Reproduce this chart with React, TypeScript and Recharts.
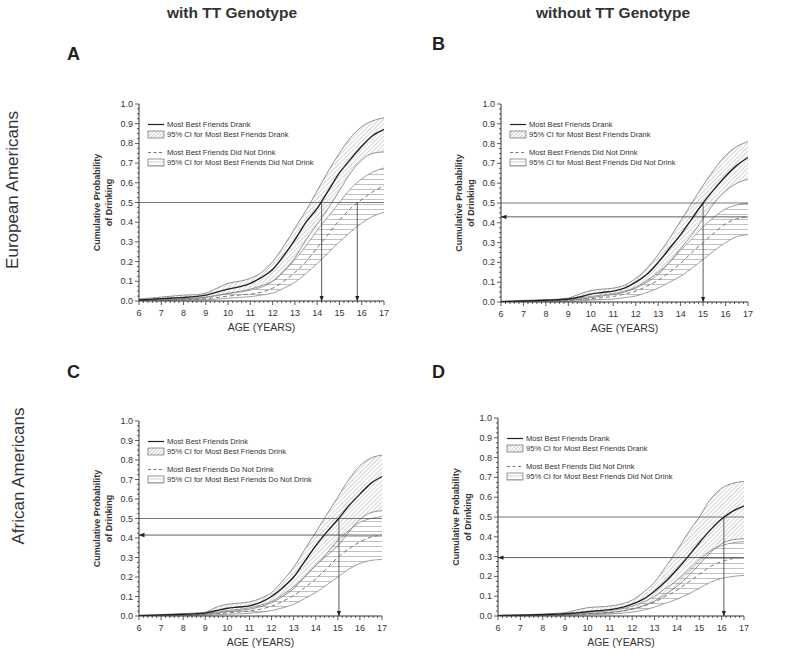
import React from 'react';
import { ComposedChart, Area, Line, XAxis, YAxis, ReferenceLine, Legend } from 'recharts';

const FONT = '"Liberation Sans", Arial, Helvetica, sans-serif';

// ---------- data ----------
const ages = [6, 6.5, 7, 7.5, 8, 8.5, 9, 9.5, 10, 10.5, 11, 11.5, 12, 12.5, 13, 13.5, 14, 14.5, 15, 15.5, 16, 16.5, 17];

// Panel A – European Americans, with TT genotype
const aDrankMean = [0.005, 0.008, 0.012, 0.015, 0.018, 0.022, 0.03, 0.045, 0.06, 0.072, 0.09, 0.12, 0.16, 0.23, 0.31, 0.4, 0.47, 0.56, 0.65, 0.72, 0.785, 0.84, 0.87];
const aDrankHi = [0.01, 0.015, 0.02, 0.025, 0.03, 0.032, 0.04, 0.065, 0.09, 0.1, 0.115, 0.145, 0.2, 0.28, 0.37, 0.46, 0.56, 0.66, 0.75, 0.83, 0.885, 0.915, 0.93];
const aDrankLo = [0.002, 0.004, 0.006, 0.008, 0.01, 0.012, 0.018, 0.028, 0.038, 0.048, 0.06, 0.078, 0.1, 0.15, 0.22, 0.31, 0.39, 0.47, 0.56, 0.65, 0.715, 0.75, 0.757];
const aNotMean = [0.002, 0.003, 0.005, 0.006, 0.008, 0.01, 0.012, 0.018, 0.025, 0.03, 0.035, 0.045, 0.065, 0.1, 0.145, 0.2, 0.27, 0.34, 0.41, 0.47, 0.515, 0.555, 0.585];
const aNotHi = [0.004, 0.006, 0.008, 0.01, 0.012, 0.015, 0.02, 0.028, 0.038, 0.045, 0.055, 0.07, 0.1, 0.15, 0.21, 0.28, 0.36, 0.43, 0.5, 0.57, 0.62, 0.655, 0.675];
const aNotLo = [0, 0.001, 0.002, 0.003, 0.004, 0.005, 0.006, 0.01, 0.014, 0.018, 0.022, 0.03, 0.04, 0.065, 0.095, 0.14, 0.19, 0.245, 0.3, 0.35, 0.395, 0.43, 0.45];

// Panel B – European Americans, without TT genotype
const bDrankMean = [0.002, 0.003, 0.005, 0.007, 0.009, 0.011, 0.015, 0.025, 0.04, 0.048, 0.055, 0.07, 0.1, 0.14, 0.2, 0.27, 0.34, 0.42, 0.5, 0.57, 0.635, 0.69, 0.73];
const bDrankHi = [0.004, 0.006, 0.008, 0.01, 0.012, 0.014, 0.02, 0.04, 0.058, 0.065, 0.07, 0.085, 0.12, 0.17, 0.24, 0.32, 0.41, 0.5, 0.59, 0.67, 0.74, 0.785, 0.81];
const bDrankLo = [0.001, 0.001, 0.002, 0.003, 0.004, 0.005, 0.008, 0.014, 0.022, 0.03, 0.038, 0.05, 0.07, 0.1, 0.14, 0.2, 0.27, 0.34, 0.42, 0.5, 0.56, 0.6, 0.62];
const bNotMean = [0.001, 0.002, 0.003, 0.004, 0.005, 0.006, 0.008, 0.012, 0.017, 0.022, 0.028, 0.04, 0.055, 0.08, 0.11, 0.15, 0.195, 0.25, 0.3, 0.35, 0.395, 0.42, 0.43];
const bNotHi = [0.002, 0.003, 0.005, 0.006, 0.008, 0.01, 0.013, 0.02, 0.028, 0.035, 0.042, 0.055, 0.075, 0.11, 0.15, 0.2, 0.26, 0.32, 0.38, 0.43, 0.47, 0.49, 0.5];
const bNotLo = [0, 0.001, 0.001, 0.002, 0.002, 0.003, 0.004, 0.006, 0.009, 0.012, 0.015, 0.022, 0.03, 0.048, 0.07, 0.1, 0.13, 0.17, 0.215, 0.26, 0.3, 0.33, 0.34];

// Panel C – African Americans, with TT genotype
const cDrankMean = [0.002, 0.003, 0.005, 0.007, 0.009, 0.011, 0.015, 0.028, 0.04, 0.046, 0.052, 0.07, 0.1, 0.145, 0.2, 0.28, 0.36, 0.43, 0.495, 0.565, 0.625, 0.68, 0.715];
const cDrankHi = [0.004, 0.006, 0.008, 0.01, 0.012, 0.015, 0.02, 0.045, 0.06, 0.066, 0.072, 0.09, 0.12, 0.18, 0.25, 0.34, 0.43, 0.52, 0.61, 0.7, 0.77, 0.81, 0.825];
const cDrankLo = [0.001, 0.001, 0.002, 0.003, 0.004, 0.005, 0.008, 0.014, 0.022, 0.028, 0.035, 0.048, 0.068, 0.1, 0.14, 0.2, 0.26, 0.31, 0.36, 0.43, 0.495, 0.53, 0.54];
const cNotMean = [0.001, 0.002, 0.003, 0.004, 0.005, 0.006, 0.008, 0.012, 0.016, 0.02, 0.026, 0.035, 0.05, 0.075, 0.105, 0.145, 0.19, 0.245, 0.3, 0.345, 0.38, 0.405, 0.415];
const cNotHi = [0.002, 0.003, 0.005, 0.006, 0.008, 0.01, 0.013, 0.02, 0.028, 0.034, 0.042, 0.055, 0.075, 0.11, 0.15, 0.2, 0.26, 0.32, 0.39, 0.44, 0.48, 0.5, 0.51];
const cNotLo = [0, 0.001, 0.001, 0.002, 0.002, 0.003, 0.004, 0.006, 0.009, 0.011, 0.014, 0.02, 0.028, 0.042, 0.06, 0.09, 0.12, 0.16, 0.2, 0.24, 0.27, 0.285, 0.29];

// Panel D – African Americans, without TT genotype
const dDrankMean = [0.002, 0.003, 0.004, 0.005, 0.007, 0.009, 0.011, 0.016, 0.022, 0.027, 0.032, 0.042, 0.06, 0.085, 0.125, 0.175, 0.235, 0.3, 0.37, 0.435, 0.49, 0.53, 0.555];
const dDrankHi = [0.003, 0.005, 0.006, 0.008, 0.01, 0.013, 0.017, 0.03, 0.042, 0.046, 0.05, 0.06, 0.08, 0.12, 0.17, 0.25, 0.33, 0.42, 0.5, 0.59, 0.645, 0.67, 0.68];
const dDrankLo = [0.001, 0.001, 0.002, 0.002, 0.003, 0.004, 0.006, 0.008, 0.011, 0.014, 0.018, 0.024, 0.035, 0.052, 0.075, 0.11, 0.15, 0.2, 0.26, 0.32, 0.365, 0.385, 0.39];
const dNotMean = [0.001, 0.002, 0.002, 0.003, 0.004, 0.005, 0.006, 0.008, 0.011, 0.014, 0.018, 0.024, 0.034, 0.05, 0.07, 0.1, 0.13, 0.17, 0.21, 0.25, 0.275, 0.29, 0.295];
const dNotHi = [0.002, 0.003, 0.004, 0.005, 0.006, 0.007, 0.009, 0.013, 0.018, 0.022, 0.027, 0.036, 0.05, 0.07, 0.1, 0.14, 0.18, 0.23, 0.285, 0.33, 0.355, 0.37, 0.375];
const dNotLo = [0, 0.001, 0.001, 0.001, 0.002, 0.002, 0.003, 0.004, 0.006, 0.008, 0.01, 0.014, 0.02, 0.03, 0.045, 0.065, 0.085, 0.11, 0.14, 0.17, 0.19, 0.2, 0.205];

// reference markers (median ages / probability at 17)
const aMedianAges = [14.2, 15.8];
const bMedianAges = [15];
const cMedianAges = [15.05];
const dMedianAges = [16.1];
const bProbAt17 = 0.43;
const cProbAt17 = 0.415;
const dProbAt17 = 0.295;

// tick labels
const xMajorTicks = [6, 7, 8, 9, 10, 11, 12, 13, 14, 15, 16, 17];
const yMajorTicks = [0, 0.1, 0.2, 0.3, 0.4, 0.5, 0.6, 0.7, 0.8, 0.9, 1.0];
const xAllTicks = Array.from({ length: 56 }, (_, i) => Math.round((6 + i * 0.2) * 10) / 10);
const yAllTicks = Array.from({ length: 41 }, (_, i) => Math.round(i * 0.025 * 1000) / 1000);

const legendPast = [
  'Most Best Friends Drank',
  '95% CI for Most Best Friends Drank',
  'Most Best Friends Did Not Drink',
  '95% CI for Most Best Friends Did Not Drink',
];
const legendPresent = [
  'Most Best Friends Drink',
  '95% CI for Most Best Friends Drink',
  'Most Best Friends Do Not Drink',
  '95% CI for Most Best Friends Do Not Drink',
];

const build = (dm: number[], dl: number[], dh: number[], nm: number[], nl: number[], nh: number[]) =>
  ages.map((age, i) => ({
    age,
    dm: dm[i],
    dRange: [dl[i], dh[i]],
    nm: nm[i],
    nRange: [nl[i], nh[i]],
  }));

const panels = [
  { letter: 'A', data: build(aDrankMean, aDrankLo, aDrankHi, aNotMean, aNotLo, aNotHi), vLines: aMedianAges, hLine: null as number | null, legend: legendPast,
    plotLeft: 139, plotRight: 384, plotTop: 104, plotBottom: 301 },
  { letter: 'B', data: build(bDrankMean, bDrankLo, bDrankHi, bNotMean, bNotLo, bNotHi), vLines: bMedianAges, hLine: bProbAt17, legend: legendPast,
    plotLeft: 501, plotRight: 748, plotTop: 104, plotBottom: 302 },
  { letter: 'C', data: build(cDrankMean, cDrankLo, cDrankHi, cNotMean, cNotLo, cNotHi), vLines: cMedianAges, hLine: cProbAt17, legend: legendPresent,
    plotLeft: 139, plotRight: 382, plotTop: 421, plotBottom: 616 },
  { letter: 'D', data: build(dDrankMean, dDrankLo, dDrankHi, dNotMean, dNotLo, dNotHi), vLines: dMedianAges, hLine: dProbAt17, legend: legendPast,
    plotLeft: 498, plotRight: 744, plotTop: 418, plotBottom: 616 },
];

// ---------- rendering helpers ----------
const XTick = (props: any) => {
  const { x, y, payload } = props;
  const v = payload.value;
  const major = xMajorTicks.some((t) => Math.abs(t - v) < 1e-6);
  return (
    <g>
      <line x1={x} y1={y} x2={x} y2={y + (major ? 4 : 2)} stroke="#333" strokeWidth={0.8} />
      {major && (
        <text x={x} y={y + 15} textAnchor="middle" fontSize={9} fontFamily={FONT} fill="#333">
          {v}
        </text>
      )}
    </g>
  );
};

const YTick = (props: any) => {
  const { x, y, payload } = props;
  const v = payload.value;
  const major = yMajorTicks.some((t) => Math.abs(t - v) < 1e-6);
  return (
    <g>
      <line x1={x} y1={y} x2={x - (major ? 4 : 2)} y2={y} stroke="#333" strokeWidth={0.8} />
      {major && (
        <text x={x - 6} y={y + 3} textAnchor="end" fontSize={9} fontFamily={FONT} fill="#333">
          {v.toFixed(1)}
        </text>
      )}
    </g>
  );
};

const arrowShape = (p: any) => (
  <line x1={p.x1} y1={p.y1} x2={p.x2} y2={p.y2} stroke="#333" strokeWidth={0.8} markerEnd="url(#arrowHead)" />
);

const LegendBox = ({ texts }: { texts: string[] }) => {
  const row = (sym: React.ReactNode, t: string, extraTop = 0) => (
    <div style={{ display: 'flex', alignItems: 'center', height: 9.5, marginTop: extraTop }}>
      <svg width={19} height={9} style={{ flex: 'none' }}>{sym}</svg>
      <span style={{ whiteSpace: 'nowrap', marginLeft: 1 }}>{t}</span>
    </div>
  );
  return (
    <div style={{ fontFamily: FONT, fontSize: 7.6, color: '#333', lineHeight: '9.5px' }}>
      {row(<line x1={1} y1={4.5} x2={17} y2={4.5} stroke="#222" strokeWidth={1.2} />, texts[0])}
      {row(<rect x={1} y={1} width={16} height={7} fill="url(#diagHatchL)" stroke="#555" strokeWidth={0.6} />, texts[1])}
      {row(<line x1={1} y1={4.5} x2={17} y2={4.5} stroke="#777" strokeWidth={1} strokeDasharray="3 2.5" />, texts[2], 9)}
      {row(<rect x={1} y={1} width={16} height={7} fill="url(#horizHatchL)" stroke="#555" strokeWidth={0.6} />, texts[3])}
    </div>
  );
};

const Panel = ({ cfg }: { cfg: (typeof panels)[number] }) => {
  const { plotLeft, plotRight, plotTop, plotBottom, data, vLines, hLine, legend } = cfg;
  const plotW = plotRight - plotLeft;
  const plotH = plotBottom - plotTop;
  const W = plotW + 80;
  const H = plotH + 60;
  const PL = 60;
  const PT = 20;
  return (
    <div style={{ position: 'absolute', left: plotLeft - PL, top: plotTop - PT }}>
      <ComposedChart width={W} height={H} data={data} margin={{ top: PT, right: 20, left: 30, bottom: 10 }}>
        <XAxis
          dataKey="age"
          type="number"
          domain={[6, 17]}
          ticks={xAllTicks}
          interval={0}
          tickSize={0}
          tickMargin={0}
          tickLine={false}
          tick={<XTick />}
          stroke="#333"
          height={30}
          allowDataOverflow
          label={{
            content: () => (
              <text x={PL + plotW / 2} y={PT + plotH + 30} textAnchor="middle" fontSize={10.5} fontFamily={FONT} fill="#333">
                AGE (YEARS)
              </text>
            ),
          }}
        />
        <YAxis
          type="number"
          domain={[0, 1]}
          ticks={yAllTicks}
          interval={0}
          tickSize={0}
          tickMargin={0}
          tickLine={false}
          tick={<YTick />}
          stroke="#333"
          width={30}
          allowDataOverflow
          label={{
            content: () => {
              const cy = PT + plotH / 2;
              const x1 = PL - 39.5;
              const x2 = PL - 27.5;
              return (
                <g fontFamily={FONT} fontSize={9} fontWeight="bold" fill="#333">
                  <text x={x1} y={cy} textAnchor="middle" transform={`rotate(-90, ${x1}, ${cy})`}>Cumulative Probability</text>
                  <text x={x2} y={cy} textAnchor="middle" transform={`rotate(-90, ${x2}, ${cy})`}>of Drinking</text>
                </g>
              );
            },
          }}
        />
        <Area dataKey="dRange" type="monotone" fill="url(#diagHatch)" stroke="#777" strokeWidth={0.8} isAnimationActive={false} />
        <Area dataKey="nRange" type="monotone" fill="url(#horizHatch)" stroke="#888" strokeWidth={0.8} isAnimationActive={false} />
        <ReferenceLine y={0.5} stroke="#555" strokeWidth={0.8} />
        {hLine !== null && (
          <ReferenceLine segment={[{ x: 17, y: hLine }, { x: 6, y: hLine }]} shape={arrowShape} />
        )}
        {vLines.map((v) => (
          <ReferenceLine key={v} segment={[{ x: v, y: 0.5 }, { x: v, y: 0 }]} shape={arrowShape} />
        ))}
        <Line dataKey="nm" type="monotone" stroke="#777" strokeWidth={1} strokeDasharray="4 3" dot={false} isAnimationActive={false} />
        <Line dataKey="dm" type="monotone" stroke="#222" strokeWidth={1.4} dot={false} isAnimationActive={false} />
        <Legend
          layout="horizontal"
          verticalAlign="middle"
          align="center"
          wrapperStyle={{ left: PL + 8, top: PT + 16, width: 'auto' }}
          content={() => <LegendBox texts={legend} />}
        />
      </ComposedChart>
    </div>
  );
};

const letterPos: Record<string, { left: number; top: number }> = {
  A: { left: 67, top: 44 },
  B: { left: 432, top: 34 },
  C: { left: 67, top: 362 },
  D: { left: 432, top: 362 },
};

export default function App() {
  return (
    <div style={{ position: 'absolute', left: 0, top: 0, width: 800, height: 663, background: '#fff', overflow: 'hidden', fontFamily: FONT }}>
      <svg width={0} height={0} style={{ position: 'absolute' }}>
        <defs>
          <pattern id="diagHatch" width={3} height={3} patternUnits="userSpaceOnUse" patternTransform="rotate(45)">
            <line x1={0.5} y1={0} x2={0.5} y2={3} stroke="#999" strokeWidth={0.7} />
          </pattern>
          <pattern id="horizHatch" width={6} height={5} patternUnits="userSpaceOnUse">
            <line x1={0} y1={0.5} x2={6} y2={0.5} stroke="#7c7c7c" strokeWidth={0.8} />
          </pattern>
          <pattern id="diagHatchL" width={2.5} height={2.5} patternUnits="userSpaceOnUse" patternTransform="rotate(45)">
            <line x1={0.5} y1={0} x2={0.5} y2={2.5} stroke="#999" strokeWidth={0.5} />
          </pattern>
          <pattern id="horizHatchL" width={4} height={3.5} patternUnits="userSpaceOnUse">
            <line x1={0} y1={0.5} x2={4} y2={0.5} stroke="#999" strokeWidth={0.5} />
          </pattern>
          <marker id="arrowHead" markerWidth={6} markerHeight={6} refX={5.5} refY={3} orient="auto" markerUnits="userSpaceOnUse">
            <path d="M0,0.8 L6,3 L0,5.2 z" fill="#222" />
          </marker>
        </defs>
      </svg>

      <div style={{ position: 'absolute', left: 132, top: 4, width: 200, textAlign: 'center', fontWeight: 'bold', fontSize: 15.5, color: '#333' }}>
        with TT Genotype
      </div>
      <div style={{ position: 'absolute', left: 503, top: 4, width: 220, textAlign: 'center', fontWeight: 'bold', fontSize: 15.5, color: '#333' }}>
        without TT Genotype
      </div>

      {Object.entries(letterPos).map(([k, p]) => (
        <div key={k} style={{ position: 'absolute', left: p.left, top: p.top, fontWeight: 'bold', fontSize: 18, color: '#222' }}>
          {k}
        </div>
      ))}

      <div style={{ position: 'absolute', left: 13, top: 190, width: 0, height: 0 }}>
        <div style={{ position: 'absolute', transform: 'translate(-50%, -50%) rotate(-90deg)', whiteSpace: 'nowrap', fontSize: 17, color: '#333' }}>
          European Americans
        </div>
      </div>
      <div style={{ position: 'absolute', left: 19, top: 476, width: 0, height: 0 }}>
        <div style={{ position: 'absolute', transform: 'translate(-50%, -50%) rotate(-90deg)', whiteSpace: 'nowrap', fontSize: 17, color: '#333' }}>
          African Americans
        </div>
      </div>

      {panels.map((p) => (
        <Panel key={p.letter} cfg={p} />
      ))}
    </div>
  );
}
